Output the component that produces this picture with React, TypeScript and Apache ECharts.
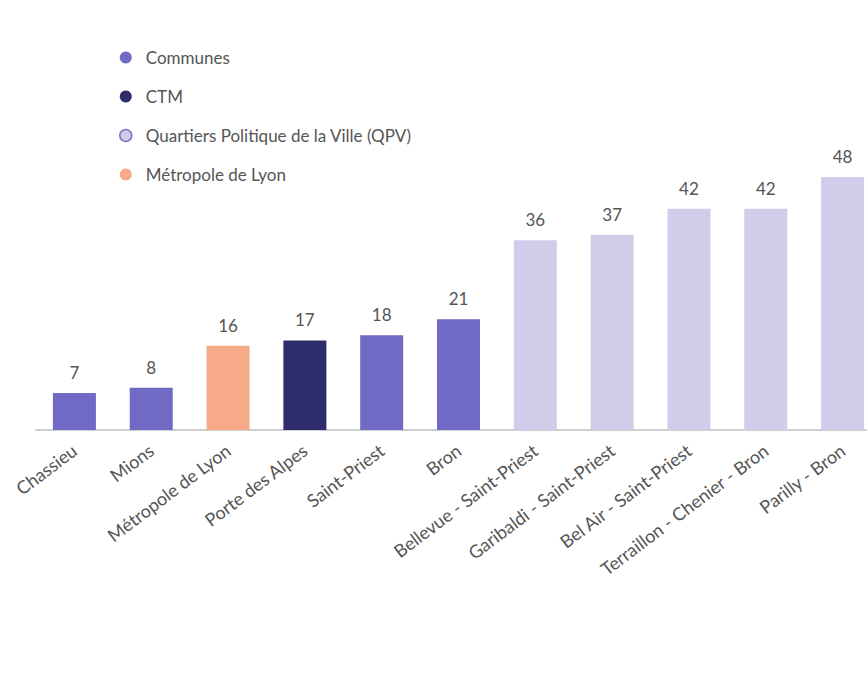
import React, { useEffect, useRef } from "react";
import * as echarts from "echarts";

const categories = [
  "Chassieu",
  "Mions",
  "Métropole de Lyon",
  "Porte des Alpes",
  "Saint-Priest",
  "Bron",
  "Bellevue - Saint-Priest",
  "Garibaldi - Saint-Priest",
  "Bel Air - Saint-Priest",
  "Terraillon - Chenier - Bron",
  "Parilly - Bron",
];
const values = [7, 8, 16, 17, 18, 21, 36, 37, 42, 42, 48];
const groupOf = [
  "Communes",
  "Communes",
  "Métropole de Lyon",
  "CTM",
  "Communes",
  "Communes",
  "Quartiers Politique de la Ville (QPV)",
  "Quartiers Politique de la Ville (QPV)",
  "Quartiers Politique de la Ville (QPV)",
  "Quartiers Politique de la Ville (QPV)",
  "Quartiers Politique de la Ville (QPV)",
];
const groups = ["Communes", "CTM", "Quartiers Politique de la Ville (QPV)", "Métropole de Lyon"];
const groupColors = ["#716ac4", "#2f2c6c", "#cfcdea", "#f6aa88"];
const legendBorders = ["#716ac4", "#2f2c6c", "#7d76c4", "#f6aa88"];

export default function App() {
  const ref = useRef<HTMLDivElement>(null);
  useEffect(() => {
    document.body.style.margin = "0";
    document.body.style.overflow = "hidden";
    const chart = echarts.init(ref.current!, null, { renderer: "svg" });
    const series = groups.map((g, gi) => ({
      name: g,
      type: "bar",
      stack: "all",
      barWidth: 43,
      data: values.map((v, i) => (groupOf[i] === g ? v : "-")),
      itemStyle: { color: groupColors[gi] },
      label: {
        show: true,
        position: "top",
        distance: 12,
        color: "#555",
        fontSize: 17,
        fontFamily: "Lato",
        formatter: (p: any) => String(Math.round(p.value)),
      },
    }));
    chart.setOption({
      animation: false,
      backgroundColor: "#fff",
      legend: {
        orient: "vertical",
        left: 114,
        top: 44,
        icon: "circle",
        itemWidth: 12,
        itemHeight: 12,
        itemGap: 22,
        textStyle: {
          color: "#555",
          fontSize: 17,
          fontFamily: "Lato",
          padding: [0, 0, 0, 9],
        },
        data: groups.map((g, gi) => ({
          name: g,
          itemStyle: { color: groupColors[gi], borderColor: legendBorders[gi], borderWidth: gi === 2 ? 1.5 : 0 },
        })),
      },
      grid: { left: 36, right: 0, top: 177, height: 253, containLabel: false },
      xAxis: {
        type: "category",
        data: categories,
        axisLine: { lineStyle: { color: "#cfcfcf", width: 2 } },
        axisTick: { show: false },
        axisLabel: {
          rotate: 37,
          interval: 0,
          margin: 18,
          color: "#555",
          fontSize: 18,
          fontFamily: "Lato",
        },
      },
      yAxis: {
        type: "value",
        min: 0,
        max: 48,
        show: false,
        splitLine: { show: false },
      },
      series,
    });
    return () => chart.dispose();
  }, []);
  return <div ref={ref} style={{ position: "fixed", left: 0, top: 0, width: 881, height: 684 }} />;
}
